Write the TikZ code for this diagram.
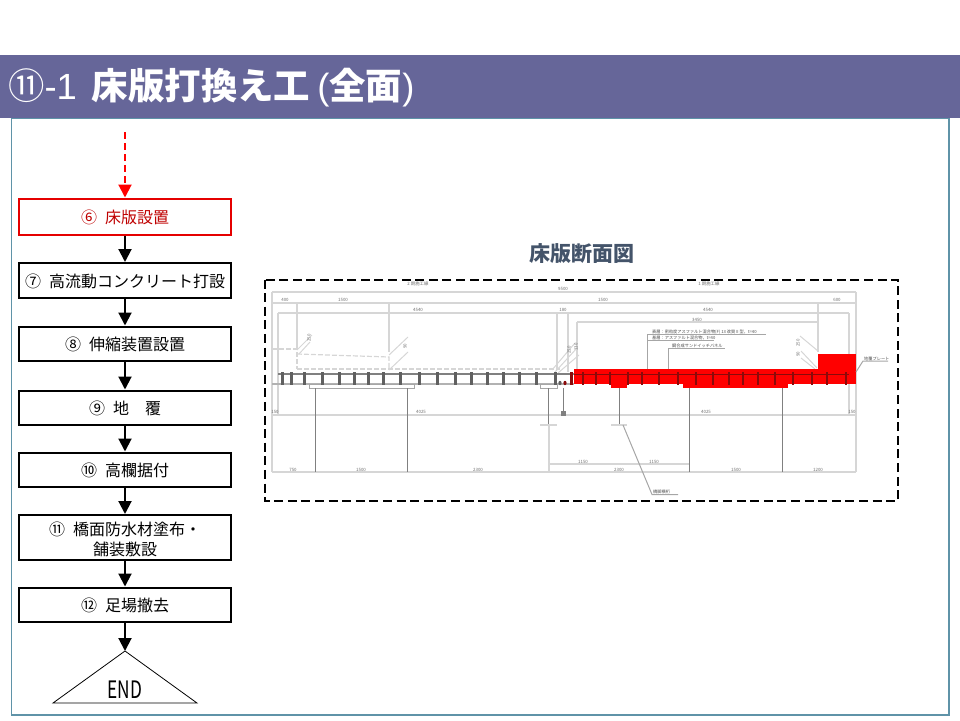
\documentclass[tikz,border=0pt]{standalone}
\usepackage{fontspec}
\usepackage{graphicx}
\setmainfont{Noto Sans CJK JP}
\newfontfamily\latinfont{Liberation Sans}
\usetikzlibrary{arrows.meta}
\definecolor{titlebar}{HTML}{666699}
\definecolor{framecol}{HTML}{5F93A8}
\definecolor{headcol}{HTML}{44546A}
\definecolor{dimcol}{HTML}{D6D6D6}
\definecolor{dimtext}{HTML}{707070}
\definecolor{stud}{HTML}{606060}
\definecolor{redstud}{HTML}{8A0A0A}
\definecolor{pile}{HTML}{808080}
\newcommand{\boxline}[1]{\raisebox{-7pt}[0pt][0pt]{#1}}
\tikzset{
  flowbox/.style={draw=black,line width=2pt,fill=white,minimum width=212pt,minimum height=34.5pt,inner sep=0pt,align=center,font=\fontsize{16}{20}\selectfont,anchor=north west},
  flowarrow/.style={draw=black,line width=2pt,-{Triangle[width=13pt,length=13pt]}},
  dimline/.style={draw=dimcol,line width=1.3pt},
  ghost/.style={draw=dimcol,line width=1.2pt,dash pattern=on 5pt off 2pt},
  dimlabel/.style={text=dimtext,inner sep=0pt,font=\fontsize{4.4}{5}\selectfont},
  notelabel/.style={text=black!70,inner sep=0pt,anchor=west,font=\fontsize{4.2}{5}\selectfont},
}
\begin{document}
\begin{tikzpicture}[x=1pt,y=-1pt]
\useasboundingbox (0,0) rectangle (960,720);
% frame and title
\draw[framecol,line width=1.2pt] (11.5,118) rectangle (949,715);
\fill[titlebar] (0,55) rectangle (960,118);
\node[text=white,inner sep=0pt,anchor=west,font=\fontsize{36.4}{40}\selectfont] (title) at (8,88)
  {⑪{\latinfont -1}\hspace{15pt}\bfseries 床版打換え工{\latinfont\mdseries\hspace{7pt}(}全面{\latinfont\mdseries )}};
% flow
\coordinate (start) at (125,132);
\node[flowbox,draw=red!90!black,text=red!75!black,minimum height=36pt] (s6) at (18,197.5) {\boxline{⑥\hspace{8pt}床版設置}};
\node[flowbox] (s7) at (18,262) {\boxline{⑦\hspace{8pt}高流動コンクリート打設}};
\node[flowbox] (s8) at (18,325.5) {\boxline{⑧\hspace{8pt}伸縮装置設置}};
\node[flowbox] (s9) at (18,389.5) {\boxline{⑨\hspace{8pt}地　覆}};
\node[flowbox] (s10) at (18,451.5) {\boxline{⑩\hspace{8pt}高欄据付}};
\node[flowbox,minimum height=45pt] (s11) at (18,514) {\rule{0pt}{18pt}⑪\hspace{8pt}橋面防水材塗布・\\舗装敷設};
\node[flowbox] (s12) at (18,586.5) {\boxline{⑫\hspace{8pt}足場撤去}};
\coordinate (apex) at (125,651);
\coordinate (baseL) at (53,703);
\coordinate (baseR) at (197,703);
\draw[black,line width=.8pt,line join=miter] (apex) -- (baseR) -- (baseL) -- cycle;
\node[inner sep=0pt,font=\fontsize{24}{26}\selectfont] (endtxt) at (125,690) {\scalebox{0.72}[1]{END}};
\draw[red,line width=2pt,dash pattern=on 7pt off 4pt,-{Triangle[width=13pt,length=13pt]}] (start) -- (s6.north);
\draw[flowarrow] (s6) -- (s7);
\draw[flowarrow] (s7) -- (s8);
\draw[flowarrow] (s8) -- (s9);
\draw[flowarrow] (s9) -- (s10);
\draw[flowarrow] (s10) -- (s11);
\draw[flowarrow] (s11) -- (s12);
\draw[flowarrow] (s12) -- (apex);
% heading
\node[text=headcol,inner sep=0pt,font=\bfseries\fontsize{21}{24}\selectfont] (heading) at (581.5,254) {床版断面図};
% section drawing: dashed border
\draw[black,line width=2pt,dash pattern=on 9pt off 4.6pt] (264.5,279.5) rectangle (898,501);
% dimension lines
\foreach \a/\b/\c in {272/856/292, 272/856/303, 278/849/313, 577/818/322, 272/856/415, 272/856/472, 549/690/464}
  \draw[dimline] (\a,\c) -- (\b,\c);
\foreach \a/\b/\c in {272/292/472, 856/292/472, 297/303/350, 389/303/352, 278/313/415, 557/313/370, 568/313/372, 577/322/370, 818/303/352, 849/313/415, 549/425/472}
  \draw[dimline] (\a,\b) -- (\a,\c);
% ghost (unchanged) deck profile
\draw[ghost] (272,349) -- (297,349) -- (297,369);
\draw[ghost] (272,349) -- (272,384);
\draw[ghost] (297,354) -- (389,357) -- (389,369);
\draw[ghost] (297,369) -- (560,369);
% leaders
\foreach \a/\b/\c/\d in {297/350/312/335, 299/354/310/342, 389/355/408/337, 389/370/408/352, 552/370/575/343, 555/372/577/348, 558/373/579/355, 818/351/800/336, 817/368/801/351, 815/369/801/358}
  \draw[dimline,line width=1pt] (\a,\b) -- (\c,\d);
% slab outline, left half
\draw[draw=gray,line width=1.2pt] (278,374) -- (574,374);
\draw[draw=gray!60,line width=1.4pt] (272,384) -- (574,384);
\draw[draw=gray!70,line width=1pt,fill=white] (309,384) rectangle (414,388);
\draw[draw=gray!70,line width=1pt,fill=white] (540,384) rectangle (557,388);
% piles
\foreach \x/\a/\b in {315/388/472, 407/388/472, 548/388/425, 619/388/425, 689/388/472, 782/388/472}
  \draw[pile,line width=1pt] (\x,\a) -- (\x,\b);
\draw[dimline] (540,425) -- (557,425);
\draw[dimline] (611,425) -- (627,425);
\draw[pile,line width=1pt] (563,388) -- (563,415);
\draw[pile,line width=1pt,fill=pile] (561,411) rectangle (565,415);
% studs, left
\foreach \z in {282,291,304,322,339,354,368,383,400,419,437,455,471,487,503,519,536,555}
  \draw[stud,line width=3pt] (\z,372) -- (\z,385);
\fill[stud] (560,383) ellipse (1.6 and 2.2);
\fill[redstud] (565,383) ellipse (1.6 and 2.2);
\draw[redstud,line width=3pt] (571,372) -- (571,385);
% red part
\fill[red] (574,369) rectangle (856,384);
\fill[red] (818,353.5) rectangle (856,384);
\fill[red] (611,384) rectangle (627,388);
\fill[red] (683,384) rectangle (788,388);
\draw[redstud,line width=.6pt] (574,374) -- (849,374);
\foreach \z in {583,596,610,628,642,659,678,696,713,729,743,758,775,793,812,827,846}
  \draw[redstud,line width=2.6pt] (\z,372) -- (\z,385);
% dimension text
\foreach \x/\y/\t [count=\i] in {418/284/2 期施工線, 709/284/1 期施工線, 563/289/9500, 285/300/400, 343/300/1500, 603/300/1500, 837/300/600, 418/310/4540, 563/310/180, 708/310/4540, 697/320/3450, 275/412/150, 421/412/4025, 706/412/4025, 852/412/150, 293/470/750, 361/470/1500, 478/470/2300, 619/470/2300, 736/470/1500, 818/470/1200, 583/462/1150, 654/462/1150}
  \node[dimlabel] (dim\i) at (\x,\y) {\t};
\foreach \x/\y/\t [count=\i] in {309/338/250, 405/346/90, 569/350/250, 576/347/130, 798/343/250, 798/354/90}
  \node[dimlabel,rotate=90] (rot\i) at (\x,\y) {\t};
% notes
\draw[dimline,draw=gray!70,line width=1pt] (647,369) -- (647,334.5) -- (766,334.5);
\draw[dimline,draw=gray!70,line width=1pt] (647,340.5) -- (714,340.5);
\draw[dimline,draw=gray!70,line width=1pt] (668,369) -- (668,348.5) -- (725,348.5);
\draw[dimline,draw=gray!70,line width=1pt] (856,372) -- (863,361) -- (888,361);
\draw[dimline,draw=gray!70,line width=1pt] (623,425) -- (652,494.5) -- (678,494.5);
\node[notelabel] (n1) at (652,332) {表層：密粒度アスファルト混合物(F) 13 改質 II 型，t=40};
\node[notelabel] (n2) at (652,338) {基層：アスファルト混合物，t=40};
\node[notelabel] (n3) at (672,345.5) {鋼合成サンドイッチパネル};
\node[notelabel] (n4) at (864,358.5) {地覆プレート};
\node[notelabel] (n5) at (653,492) {橋脚横桁};
\end{tikzpicture}
\end{document}
